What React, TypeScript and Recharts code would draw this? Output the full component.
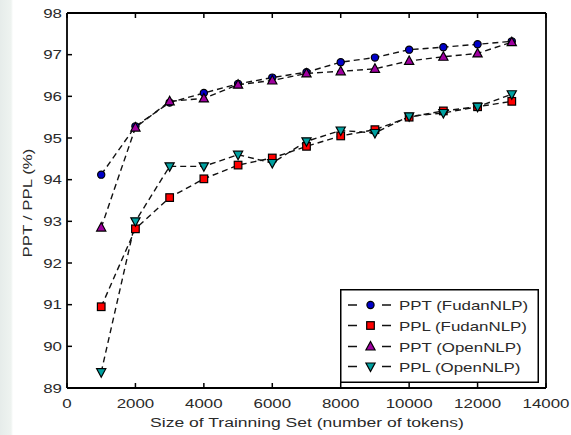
import React from 'react';
import { LineChart, Line, XAxis, YAxis, Legend } from 'recharts';

const trainingSizes = [1000, 2000, 3000, 4000, 5000, 6000, 7000, 8000, 9000, 10000, 11000, 12000, 13000];
const pptFudan = [94.12, 95.28, 95.85, 96.08, 96.3, 96.45, 96.58, 96.82, 96.93, 97.12, 97.18, 97.25, 97.32];
const pplFudan = [90.95, 92.82, 93.57, 94.02, 94.35, 94.52, 94.8, 95.05, 95.2, 95.5, 95.65, 95.75, 95.88];
const pptOpen = [92.85, 95.25, 95.88, 95.95, 96.28, 96.38, 96.55, 96.6, 96.66, 96.85, 96.95, 97.03, 97.3];
const pplOpen = [89.38, 93.0, 94.32, 94.32, 94.6, 94.4, 94.92, 95.18, 95.12, 95.52, 95.6, 95.75, 96.05];

const seriesNames = ['PPT (FudanNLP)', 'PPL (FudanNLP)', 'PPT (OpenNLP)', 'PPL (OpenNLP)'];
const seriesKeys = ['pptFudan', 'pplFudan', 'pptOpen', 'pplOpen'];
const seriesColors = ['#0000c8', '#ff0000', '#a000a0', '#00a0a0'];
const seriesShapes = ['circle', 'square', 'triUp', 'triDown'];

const xTicks = [0, 2000, 4000, 6000, 8000, 10000, 12000, 14000];
const yTicks = [89, 90, 91, 92, 93, 94, 95, 96, 97, 98];

const xLabel = 'Size of Trainning Set (number of tokens)';
const yLabel = 'PPT / PPL (%)';

const rows = trainingSizes.map((x, i) => ({
  x,
  pptFudan: pptFudan[i],
  pplFudan: pplFudan[i],
  pptOpen: pptOpen[i],
  pplOpen: pplOpen[i],
}));

const FONT = '"Liberation Sans", Arial, Helvetica, sans-serif';
const TEXT = '#2a2a2a';
const SX = 1.3;

function MarkerShape({ cx, cy, shape, color }: any) {
  if (cx == null || cy == null) return null;
  const sw = 1.2;
  if (shape === 'circle') return <circle cx={cx} cy={cy} r={3.6} fill={color} stroke="#000" strokeWidth={sw} />;
  if (shape === 'square') return <rect x={cx - 3.8} y={cy - 3.8} width={7.6} height={7.6} fill={color} stroke="#000" strokeWidth={sw} />;
  if (shape === 'triUp')
    return <polygon points={`${cx},${cy - 5} ${cx - 4.6},${cy + 3.5} ${cx + 4.6},${cy + 3.5}`} fill={color} stroke="#000" strokeWidth={sw} />;
  return <polygon points={`${cx},${cy + 5} ${cx - 4.6},${cy - 3.5} ${cx + 4.6},${cy - 3.5}`} fill={color} stroke="#000" strokeWidth={sw} />;
}

function BottomTick({ x, y, payload }: any) {
  return (
    <g>
      <line x1={x} y1={y} x2={x} y2={y - 5} stroke="#000" strokeWidth={1.5} />
      <text transform={`translate(${x}, ${y + 20}) scale(${SX},1)`} textAnchor="middle" fontSize={13} fontFamily={FONT} fill={TEXT}>
        {payload.value}
      </text>
    </g>
  );
}

function TopTick({ x, y }: any) {
  return <line x1={x} y1={y} x2={x} y2={y + 5} stroke="#000" strokeWidth={1.5} />;
}

function LeftTick({ x, y, payload }: any) {
  return (
    <g>
      <line x1={x} y1={y} x2={x + 5} y2={y} stroke="#000" strokeWidth={1.5} />
      <text transform={`translate(${x - 5}, ${y + 4.5}) scale(${SX},1)`} textAnchor="end" fontSize={13} fontFamily={FONT} fill={TEXT}>
        {payload.value}
      </text>
    </g>
  );
}

function RightTick({ x, y }: any) {
  return <line x1={x} y1={y} x2={x - 5} y2={y} stroke="#000" strokeWidth={1.5} />;
}

function LegendBox() {
  const rowY = [16, 36.5, 57.5, 77.5];
  return (
    <svg width={199} height={94} style={{ display: 'block' }}>
      <rect x={0.75} y={0.75} width={197.5} height={92.5} fill="#fff" stroke="#000" strokeWidth={1.5} />
      {seriesKeys.map((k, idx) => {
        const y = rowY[idx];
        return (
          <g key={k}>
            <line x1={8} y1={y} x2={17} y2={y} stroke="#111" strokeWidth={1.5} />
            <line x1={42} y1={y} x2={51} y2={y} stroke="#111" strokeWidth={1.5} />
            <MarkerShape cx={30.5} cy={y} shape={seriesShapes[idx]} color={seriesColors[idx]} />
            <text transform={`translate(59, ${y + 5}) scale(${SX},1)`} fontSize={13} fontFamily={FONT} fill={TEXT}>
              {seriesNames[idx]}
            </text>
          </g>
        );
      })}
    </svg>
  );
}

export default function App() {
  return (
    <div
      style={{
        position: 'absolute',
        left: 0,
        top: 0,
        width: 571,
        height: 435,
        background: 'linear-gradient(to right, #e6ecea 0px, #eef3f0 11px, #ffffff 13px)',
      }}
    >
      <LineChart width={571} height={435} data={rows} margin={{ top: 0, right: 0, bottom: 0, left: 0 }}>
        <XAxis
          xAxisId="b"
          dataKey="x"
          type="number"
          domain={[0, 14000]}
          ticks={xTicks}
          height={47}
          tickSize={0}
          tickMargin={0}
          tick={<BottomTick />}
          tickLine={false}
          axisLine={{ stroke: '#000', strokeWidth: 1.8 }}
          interval={0}
        />
        <XAxis
          xAxisId="t"
          orientation="top"
          dataKey="x"
          type="number"
          domain={[0, 14000]}
          ticks={xTicks}
          height={13}
          tickSize={0}
          tickMargin={0}
          tick={<TopTick />}
          tickLine={false}
          axisLine={{ stroke: '#000', strokeWidth: 1.8 }}
          interval={0}
        />
        <YAxis
          yAxisId="l"
          type="number"
          domain={[89, 98]}
          ticks={yTicks}
          width={67}
          tickSize={0}
          tickMargin={0}
          tick={<LeftTick />}
          tickLine={false}
          axisLine={{ stroke: '#000', strokeWidth: 1.8 }}
          interval={0}
        />
        <YAxis
          yAxisId="r"
          orientation="right"
          type="number"
          domain={[89, 98]}
          ticks={yTicks}
          width={25}
          tickSize={0}
          tickMargin={0}
          tick={<RightTick />}
          tickLine={false}
          axisLine={{ stroke: '#000', strokeWidth: 1.8 }}
          interval={0}
        />
        {seriesKeys.map((k, i) => (
          <Line
            key={k}
            xAxisId="b"
            yAxisId="l"
            dataKey={k}
            name={seriesNames[i]}
            stroke="#111"
            strokeWidth={1.4}
            strokeDasharray="6 4"
            isAnimationActive={false}
            dot={(p: any) => <MarkerShape key={`${k}-${p.index}`} cx={p.cx} cy={p.cy} shape={seriesShapes[i]} color={seriesColors[i]} />}
            activeDot={false}
          />
        ))}
        <Legend
          layout="vertical"
          align="center"
          verticalAlign="middle"
          content={<LegendBox />}
          wrapperStyle={{ position: 'absolute', left: 340, top: 289, width: 199, height: 94 }}
        />
        <text fontSize={13.5} fontFamily={FONT} fill={TEXT} textAnchor="middle"
          transform={`translate(307,427) scale(${SX},1)`}>
          {xLabel}
        </text>
        <text fontSize={13} fontFamily={FONT} fill={TEXT} textAnchor="middle"
          transform={`translate(32,203) rotate(-90) scale(${SX},1)`}>
          {yLabel}
        </text>
      </LineChart>
    </div>
  );
}
